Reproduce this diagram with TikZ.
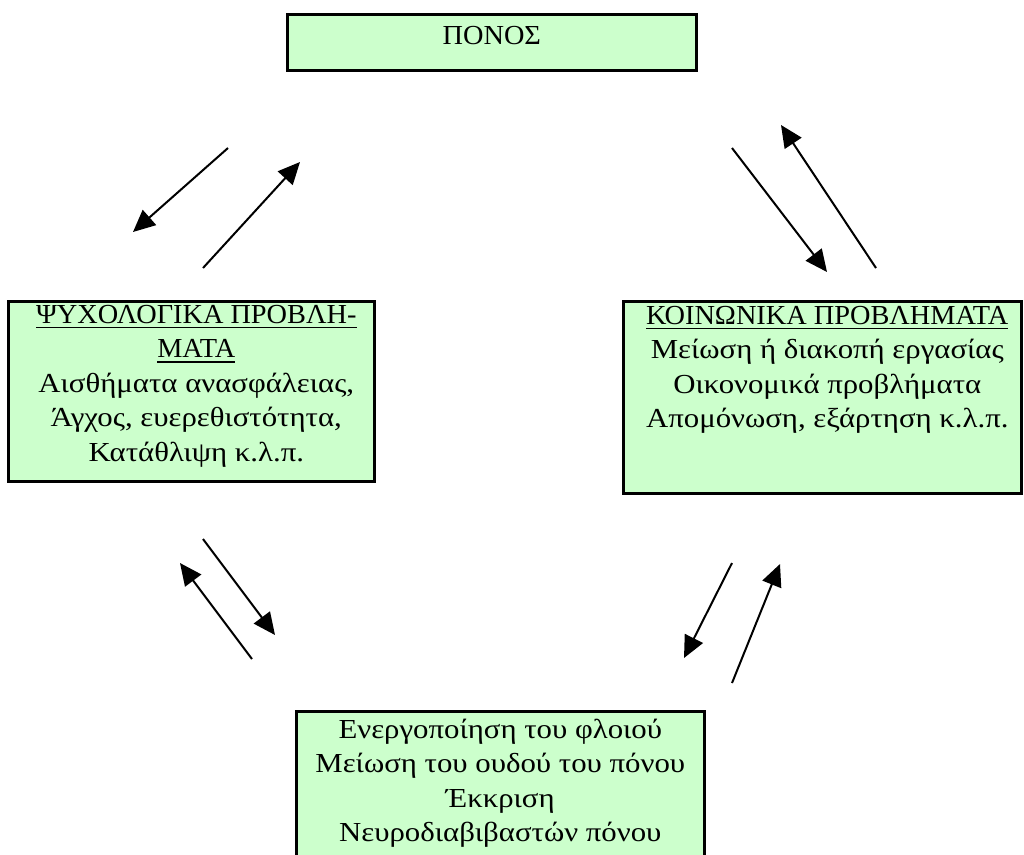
\documentclass[tikz,border=0pt]{standalone}
\usepackage{fontspec}
\setmainfont{Liberation Serif}[FakeStretch=1.12]
\newfontfamily\capsfont{Liberation Serif}[FakeStretch=1.03]
\usetikzlibrary{arrows.meta}
\definecolor{boxgreen}{HTML}{CCFFCC}
% underlined capital heading, rule just below the baseline
\newcommand\undl[1]{\leavevmode\setbox0\hbox{\capsfont #1}\rlap{\rule[-5pt]{\wd0}{1.8pt}}\box0}
% box body: width, height, first-baseline offset, centred lines
\newcommand\panelbody[4]{\parbox[c][#2][t]{#1}{\centering\fontsize{27.5}{34.5}\selectfont\rule{0pt}{#3}#4}}
\tikzset{
  panel/.style={draw=black, line width=2.6pt, fill=boxgreen, inner sep=0pt, anchor=north west},
  arr/.style={line width=2pt, -{Triangle[length=22pt,width=20pt]}},
}
\begin{document}
\begin{tikzpicture}[x=1pt,y=-1pt]
\useasboundingbox (0,0) rectangle (1024,854);
\fill[white] (0,0) rectangle (1024,854);
\clip (0,0) rectangle (1024,854);

\node[panel] (pain) at (286,13) {\panelbody{409pt}{56pt}{30pt}{{\capsfont ΠΟΝΟΣ}}};
\node[panel] (psych) at (7,300) {\panelbody{366pt}{180pt}{22pt}{\hspace*{10pt}\undl{ΨΥΧΟΛΟΓΙΚΑ ΠΡΟΒΛΗ-}\\ \hspace*{10pt}\undl{ΜΑΤΑ}\\ \hspace*{10pt}Αισθήματα ανασφάλειας,\\ \hspace*{10pt}Άγχος, ευερεθιστότητα,\\ \hspace*{10pt}Κατάθλιψη κ.λ.π.}};
\node[panel] (social) at (622,300) {\panelbody{398pt}{192pt}{23pt}{\hspace*{10pt}\undl{ΚΟΙΝΩΝΙΚΑ ΠΡΟΒΛΗΜΑΤΑ}\\ \hspace*{10pt}Μείωση ή διακοπή εργασίας\\ \hspace*{10pt}Οικονομικά προβλήματα\\ \hspace*{10pt}Απομόνωση, εξάρτηση κ.λ.π.}};
\node[panel] (cortex) at (295,710) {\panelbody{408pt}{170pt}{27pt}{Ενεργοποίηση του φλοιού\\ Μείωση του ουδού του πόνου\\ Έκκριση\\ Νευροδιαβιβαστών πόνου}};

% pain <-> psychological
\coordinate (a1s) at (228,148); \coordinate (a1e) at (133,232);
\coordinate (a2s) at (203,268); \coordinate (a2e) at (300,162);
% pain <-> social
\coordinate (a3s) at (732,148); \coordinate (a3e) at (827,272);
\coordinate (a4s) at (876,268); \coordinate (a4e) at (781,125);
% psychological <-> cortex
\coordinate (a5s) at (203,539); \coordinate (a5e) at (275,635);
\coordinate (a6s) at (252,659); \coordinate (a6e) at (180,563);
% social <-> cortex
\coordinate (a7s) at (732,563); \coordinate (a7e) at (684,658);
\coordinate (a8s) at (732,683); \coordinate (a8e) at (780,564);

\foreach \i in {1,...,8} \draw[arr] (a\i s) -- (a\i e);
\end{tikzpicture}
\end{document}
